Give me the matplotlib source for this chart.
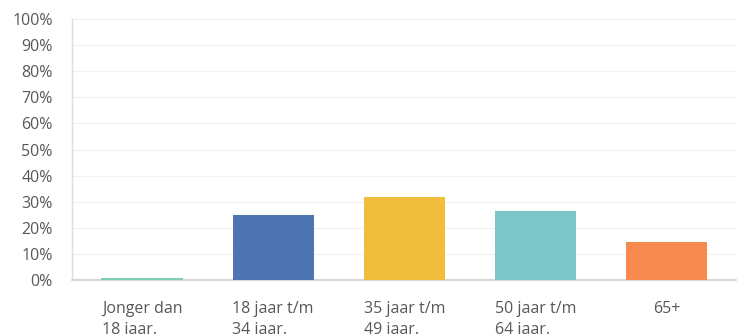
import matplotlib
matplotlib.use("Agg")
import matplotlib.pyplot as plt
from matplotlib.ticker import FuncFormatter

categories = ["Jonger dan\n18 jaar.", "18 jaar t/m\n34 jaar.", "35 jaar t/m\n49 jaar.",
              "50 jaar t/m\n64 jaar.", "65+"]
values = [0.6, 25.0, 31.9, 26.5, 14.4]
colors = ["#7fcfae", "#4f74b4", "#f1bd3c", "#7cc6c9", "#f68a4f"]
yticks = list(range(0, 101, 10))

plt.rcParams["font.family"] = ["Open Sans", "DejaVu Sans"]

fig = plt.figure(figsize=(7.41, 3.34), dpi=100)
ax = fig.add_axes([72 / 741, 1 - 280 / 334, (736 - 72) / 741, 261 / 334])

x = list(range(len(categories)))
ax.bar(x, values, width=0.62, color=colors, zorder=3)

ax.set_ylim(0, 100)
ax.set_xlim(-0.535, len(categories) - 0.47)
ax.set_yticks(yticks)
ax.yaxis.set_major_formatter(FuncFormatter(lambda v, _: f"{int(v)}%"))
ax.set_xticks(x)
ax.set_xticklabels(categories, multialignment="left", linespacing=1.4)

ax.grid(axis="y", color="#f1f1f1", linewidth=0.9, zorder=0)
for side in ("top", "right"):
    ax.spines[side].set_visible(False)
ax.spines["left"].set_color("#dcdcdc")
ax.spines["bottom"].set_color("#cfcfcf")
ax.spines["left"].set_linewidth(1.0)
ax.spines["bottom"].set_linewidth(1.2)

ax.tick_params(axis="y", length=0, pad=14, labelsize=11.5, labelcolor="#585858")
ax.tick_params(axis="x", length=0, pad=15, labelsize=11.5, labelcolor="#585858")

fig.savefig("out.png", dpi=100)
